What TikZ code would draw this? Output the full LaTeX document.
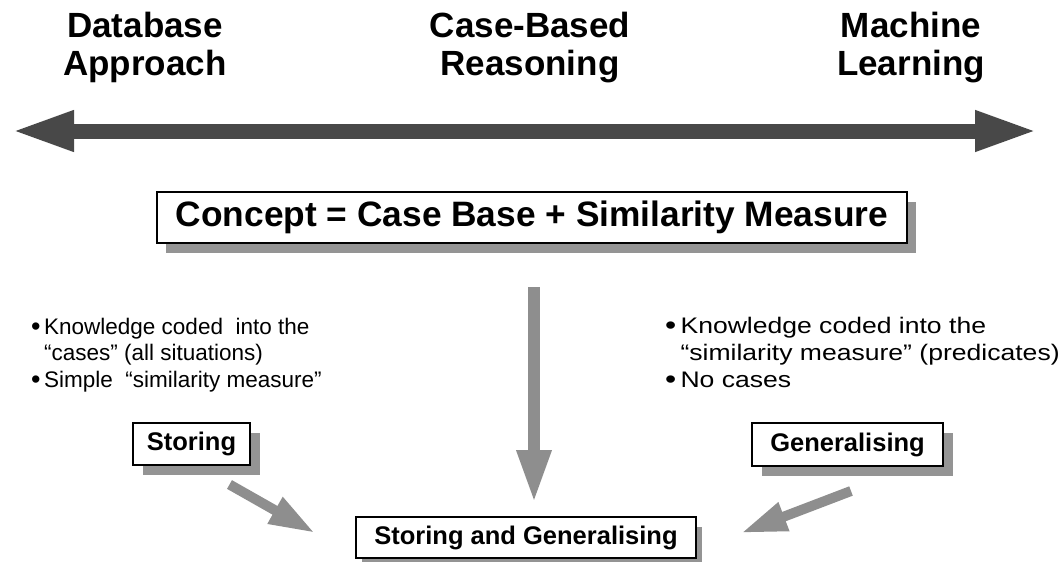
\documentclass[tikz,border=0pt]{standalone}
\usepackage{fontspec}
\usepackage{graphicx}
\setmainfont{Liberation Sans}
\usetikzlibrary{arrows.meta,shadows}

\definecolor{bardark}{HTML}{484848}
\definecolor{shadowgray}{HTML}{949494}
\definecolor{flowgray}{HTML}{8E8E8E}

\newcommand{\bulletitem}{\makebox[13pt][l]{\raisebox{-1pt}{\fontsize{27}{0}\selectfont •}}}
\newcommand{\bulletgap}{\hspace*{13pt}}

\tikzset{
  heading/.style={anchor=north, align=center, inner sep=0pt,
    font=\fontsize{35}{38}\selectfont\bfseries},
  notes/.style={anchor=north west, align=left, inner sep=0pt,
    font=\fontsize{22.5}{26.8}\selectfont},
  labelbox/.style={draw=black, line width=1.3pt, fill=white, inner sep=0pt,
    drop shadow={shadow xshift=#1, shadow yshift=-10pt, fill=shadowgray, opacity=1}},
  labelbox/.default=10pt,
  smalllabel/.style={font=\fontsize{25.5}{30}\selectfont\bfseries},
  scalearrow/.style={draw=bardark, line width=15pt,
    {Triangle[length=63pt,width=37pt]}-{Triangle[length=63pt,width=37pt]}},
  flowarrow/.style={draw=flowgray, line width=10pt,
    -{Triangle[length=46pt,width=28pt]}},
  mainflow/.style={draw=flowgray, line width=12pt,
    -{Triangle[length=53pt,width=32pt]}}
}

\begin{document}
\begin{tikzpicture}[x=1pt, y=-1pt]
  \useasboundingbox (0,0) rectangle (1063,562);

  % three approaches along the scale
  \node[heading] (db)  at (145,12) {Database\\Approach};
  \node[heading] (cbr) at (530,12) {Case-Based\\Reasoning};
  \node[heading] (ml)  at (911,12) {Machine\\Learning};

  % double-headed scale arrow
  \coordinate (scaleL) at (11,131);
  \coordinate (scaleR) at (1038,131);
  \draw[scalearrow] (scaleL) -- (scaleR);

  % central equation
  \node[labelbox=9pt, minimum width=750pt, minimum height=51pt,
        font=\fontsize{35.3}{40}\selectfont\bfseries]
        (concept) at (532,217.5) {Concept = Case Base + Similarity Measure};

  % notes on both sides (the right-hand block is set a little wider)
  \node[notes] (leftnotes) at (31,317.5)
    {\bulletitem Knowledge coded\ \ into the\\
     \bulletgap “cases” (all situations)\\
     \bulletitem Simple\ \ “similarity measure”};
  \node[notes] (rightnotes) at (665,314.5)
    {\scalebox{1.18}[1]{\begin{tabular}{@{}l@{}}
     \bulletitem Knowledge coded into the\\
     \bulletgap “similarity measure” (predicates)\\
     \bulletitem No cases
     \end{tabular}}};

  % labelled boxes
  \node[labelbox, smalllabel, minimum width=117pt, minimum height=42pt]
        (storing) at (191.5,444) {Storing};
  \node[labelbox, smalllabel, minimum width=191pt, minimum height=43pt]
        (general) at (847.5,444.5) {Generalising};
  \node[labelbox=6pt, smalllabel, minimum width=340pt, minimum height=41pt]
        (both) at (526,537.5) {Storing and Generalising};

  % flow arrows towards the combined box
  \coordinate (conceptflow) at (534,287);
  \coordinate (conceptend)  at (534,503);
  \draw[mainflow] (conceptflow) -- (conceptend);

  \coordinate (storingflow) at (229.5,484.5);
  \coordinate (storingend)  at (315,533);
  \draw[flowarrow] (storingflow) -- (storingend);

  \coordinate (generalflow) at (851,491);
  \coordinate (generalend)  at (741,533);
  \draw[flowarrow] (generalflow) -- (generalend);
\end{tikzpicture}
\end{document}
